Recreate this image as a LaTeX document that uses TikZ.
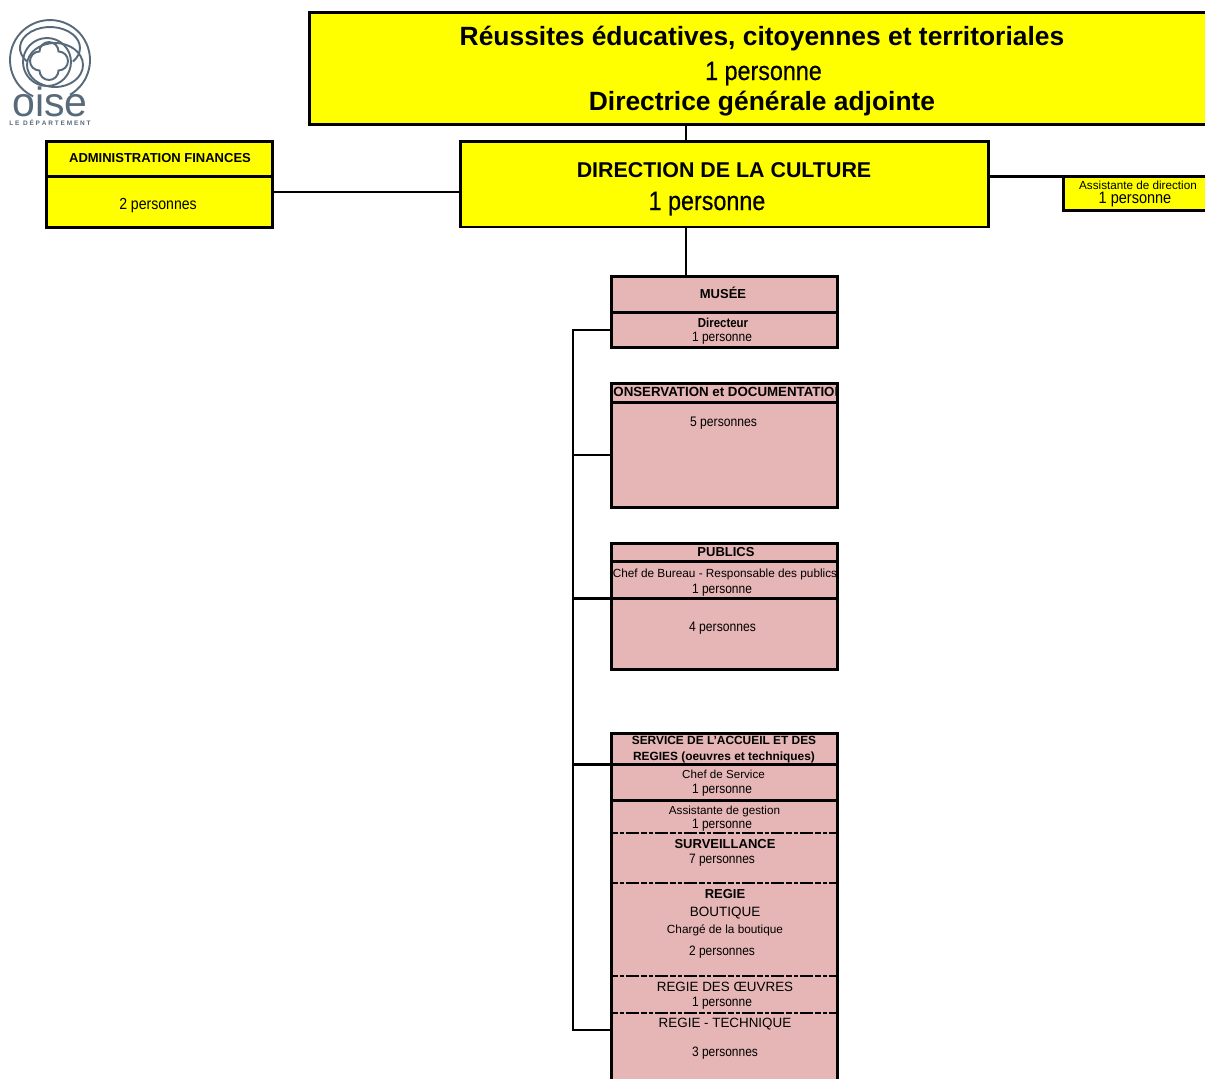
\documentclass[tikz,border=0pt]{standalone}
\usepackage{fontspec}
\setmainfont{Liberation Sans}
\newfontfamily\narrowfont[FakeStretch=0.88]{Liberation Sans}
\newfontfamily\narrowheavy[FakeStretch=0.88, FakeBold=0.5]{Liberation Sans}
\definecolor{orgyellow}{RGB}{255, 255, 0}
\definecolor{orgpink}{RGB}{230, 181, 181}
\definecolor{logoblue}{RGB}{88, 106, 122}
\newcommand{\fs}[1]{\fontsize{#1}{#1}\selectfont}
\usetikzlibrary{positioning, calc}
\tikzset{
    yellowbox/.style={rectangle, draw=black, line width=2.1pt, fill=orgyellow, anchor=north west, inner sep=0pt, outer sep=0pt, xshift=0.5pt, yshift=-0.5pt},
    pinkbox/.style={rectangle, draw=black, line width=2.1pt, fill=orgpink, anchor=north west, inner sep=0pt, outer sep=0pt, xshift=0.5pt, yshift=-0.5pt},
    lbl/.style={anchor=base, inner sep=0pt, text=black},
    link/.style={draw=black, line width=2.1pt},
    cutline/.style={draw=black, line width=2pt, dash pattern=on 6pt off 2pt on 4pt off 2pt on 13pt off 2pt},
    ring/.style={draw=logoblue, line width=1.9pt},
}
\begin{document}
\begin{tikzpicture}[x=1pt, y=-1pt]
    \useasboundingbox (0,0) rectangle (1205,1079);
    \clip (0,0) rectangle (1205,1079);

    % logo
    \draw[ring] (33.1,96.3) arc [start angle=115, end angle=420, radius=40];
    \draw[ring] (27,61.5) arc [start angle=140, end angle=400, x radius=30, y radius=21];
    \draw[ring] (47,62) circle [radius=24];
    \draw[ring] (55,65) ellipse [x radius=28, y radius=22];
    \draw[ring] (39.5,51.5) arc [start angle=180, end angle=360, radius=9.5]
        arc [start angle=270, end angle=450, radius=9.5]
        arc [start angle=0, end angle=180, radius=9.5]
        arc [start angle=90, end angle=270, radius=9.5] -- cycle;
    \node[lbl, text=logoblue] (logotxt) at (50,116) {\fs{41}oise};
    \node[lbl, text=logoblue] (logosub) at (50,125) {\fs{6.5}\bfseries L E\ \ D É P A R T E M E N T};

    % yellow boxes
    \node[yellowbox, minimum width=910pt, minimum height=112pt] (reussites) at (309,12) {};
    \node[yellowbox, minimum width=528pt, minimum height=85.5pt] (direction) at (460,141) {};
    \node[yellowbox, minimum width=226pt, minimum height=35pt] (adminhead) at (46,141) {};
    \node[yellowbox, minimum width=226pt, minimum height=51pt] (adminbody) at (46,176) {};
    \node[yellowbox, minimum width=152pt, minimum height=34pt] (assistante) at (1063,176) {};

    \node[lbl] (reussitestxt) at (762,45) {\fs{26.4}\bfseries Réussites éducatives, citoyennes et territoriales};
    \node[lbl] (reussitesnb) at (763.5,80) {\narrowheavy\fs{26.5}1 personne};
    \node[lbl] (reussitesrole) at (762,110) {\fs{26.4}\bfseries Directrice générale adjointe};
    \node[lbl] (directiontxt) at (724,177) {\fs{21.4}\bfseries DIRECTION DE LA CULTURE};
    \node[lbl] (directionnb) at (707,210) {\narrowheavy\fs{26.5}1 personne};
    \node[lbl] (admintxt) at (160,162) {\fs{13}\bfseries ADMINISTRATION FINANCES};
    \node[lbl] (adminnb) at (158,209) {\narrowfont\fs{16}2 personnes};
    \node[lbl] (assistantetxt) at (1138,189) {\fs{11.7}Assistante de direction};
    \node[lbl] (assistantenb) at (1135,203) {\narrowfont\fs{16.5}1 personne};

    % pink boxes
    \node[pinkbox, minimum width=226pt, minimum height=36pt] (musee) at (611,276) {};
    \node[pinkbox, minimum width=226pt, minimum height=35pt] (directeur) at (611,312) {};
    \node[pinkbox, minimum width=226pt, minimum height=19pt] (conshead) at (611,383) {};
    \node[pinkbox, minimum width=226pt, minimum height=105pt] (consbody) at (611,402) {};
    \node[pinkbox, minimum width=226pt, minimum height=18pt] (pubhead) at (611,543) {};
    \node[pinkbox, minimum width=226pt, minimum height=37pt] (pubchef) at (611,561) {};
    \node[pinkbox, minimum width=226pt, minimum height=71pt] (pubbody) at (611,598) {};
    \node[pinkbox, minimum width=226pt, minimum height=31pt] (accueil) at (611,733) {};
    \node[pinkbox, minimum width=226pt, minimum height=36pt] (chefserv) at (611,764) {};
    \node[pinkbox, minimum width=226pt, minimum height=300pt] (regies) at (611,800) {};

    \node[lbl] (museetxt) at (723,298) {\fs{13}\bfseries MUSÉE};
    \node[lbl] (directeurtxt) at (723,327) {\narrowfont\fs{13}\bfseries Directeur};
    \node[lbl] (directeurnb) at (722,341) {\narrowfont\fs{13.6}1 personne};
    \begin{scope}
        \clip (conshead.north west) rectangle (conshead.south east);
        \node[lbl] (constxt) at (724,396) {\fs{13.3}\bfseries CONSERVATION et DOCUMENTATION};
    \end{scope}
    \node[lbl] (consnb) at (723.5,426) {\narrowfont\fs{13.8}5 personnes};
    \node[lbl] (pubtxt) at (726,556) {\fs{13}\bfseries PUBLICS};
    \node[lbl] (pubcheftxt) at (725,577) {\fs{11.8}Chef de Bureau - Responsable des publics};
    \node[lbl] (pubchefnb) at (722,593) {\narrowfont\fs{13.6}1 personne};
    \node[lbl] (pubnb) at (722.5,631) {\narrowfont\fs{13.8}4 personnes};
    \node[lbl] (accueiltxt) at (724,744) {\fs{11.9}\bfseries SERVICE DE L'ACCUEIL ET DES};
    \node[lbl] (accueiltxtb) at (724,760) {\fs{11.9}\bfseries REGIES (oeuvres et techniques)};
    \node[lbl] (chefservtxt) at (723.5,778) {\fs{11.6}Chef de Service};
    \node[lbl] (chefservnb) at (722,793) {\narrowfont\fs{13.6}1 personne};
    \node[lbl] (gestiontxt) at (724.5,814) {\fs{11.7}Assistante de gestion};
    \node[lbl] (gestionnb) at (722,828) {\narrowfont\fs{13.6}1 personne};
    \node[lbl] (survtxt) at (725,848) {\fs{13}\bfseries SURVEILLANCE};
    \node[lbl] (survnb) at (722,863) {\narrowfont\fs{13.6}7 personnes};
    \node[lbl] (regietxt) at (725,898) {\fs{13}\bfseries REGIE};
    \node[lbl] (boutiquetxt) at (725,916) {\fs{13.5}BOUTIQUE};
    \node[lbl] (chargetxt) at (725,933) {\fs{11.8}Chargé de la boutique};
    \node[lbl] (boutiquenb) at (722,955) {\narrowfont\fs{13.6}2 personnes};
    \node[lbl] (oeuvrestxt) at (725,991) {\fs{13.4}REGIE DES ŒUVRES};
    \node[lbl] (oeuvresnb) at (722,1006) {\narrowfont\fs{13.6}1 personne};
    \node[lbl] (techtxt) at (725,1027) {\fs{13.4}REGIE - TECHNIQUE};
    \node[lbl] (technb) at (725,1056) {\narrowfont\fs{13.6}3 personnes};

    % dashed separators
    \coordinate (cutA) at (611.5,832.5);
    \coordinate (cutB) at (611.5,882.5);
    \coordinate (cutC) at (611.5,975.5);
    \coordinate (cutD) at (611.5,1012.5);
    \foreach \cut in {cutA, cutB, cutC, cutD}
        \draw[cutline] (\cut) -- (\cut -| regies.east);

    % connectors
    \coordinate (trunk) at (686,0);
    \coordinate (spine) at (573,0);
    \coordinate (adminlink) at (0,192);
    \coordinate (techlink) at (611.5,1030);
    \draw[link] (reussites.south -| trunk) -- (direction.north -| trunk);
    \draw[link] (direction.south -| trunk) -- (musee.north -| trunk);
    \draw[link] (adminbody.east |- adminlink) -- (direction.west |- adminlink);
    \draw[link] (direction.east |- assistante.north) -- (assistante.north west);
    \draw[link] (directeur.west) -- (directeur.west -| spine) -- (techlink -| spine) -- (techlink);
    \draw[link] (consbody.west -| spine) -- (consbody.west);
    \draw[link] (pubbody.north west -| spine) -- (pubbody.north west);
    \draw[link] (accueil.south west -| spine) -- (accueil.south west);
\end{tikzpicture}
\end{document}
